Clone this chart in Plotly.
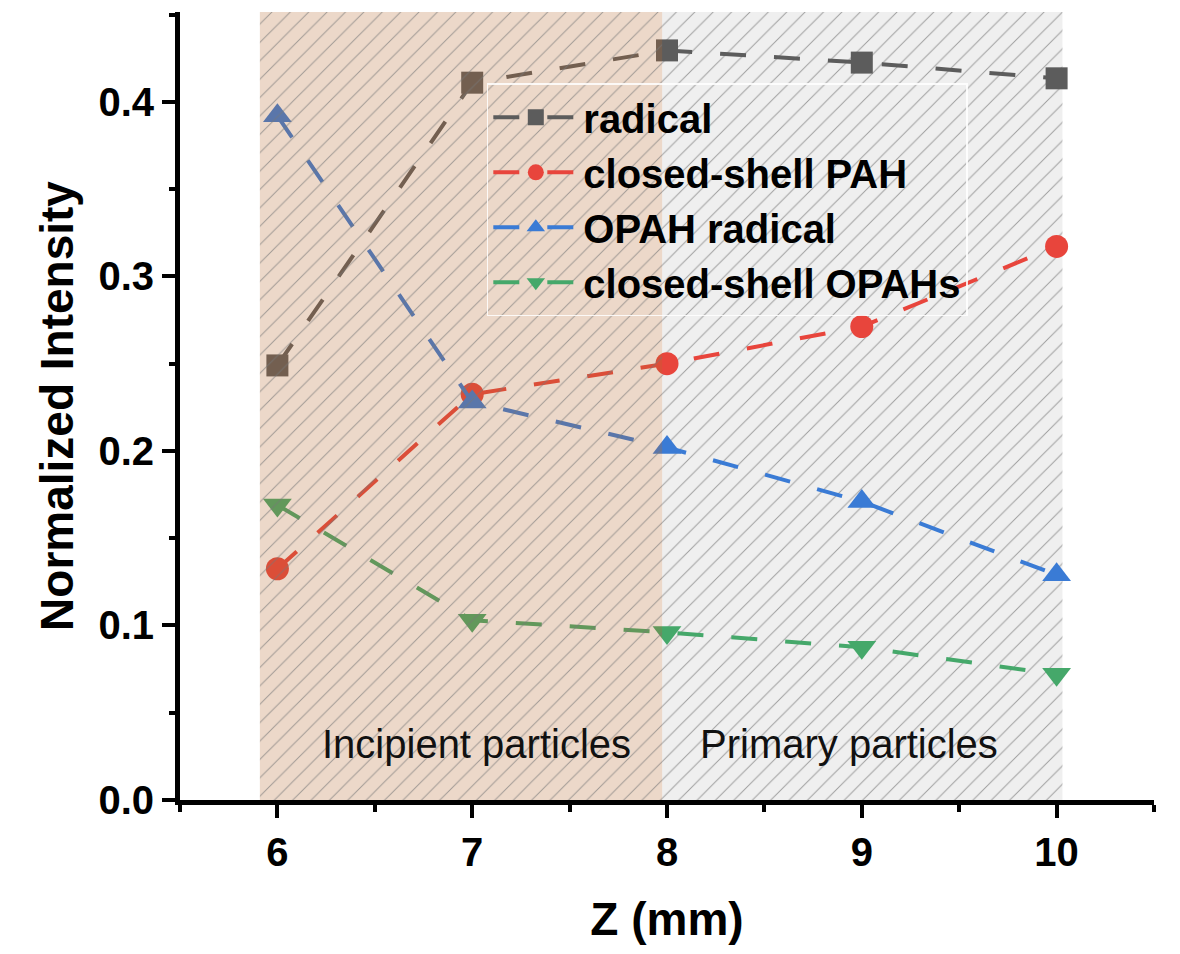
import plotly.graph_objects as go

# Height above the burner surface (mm)
z_mm = [6, 7, 8, 9, 10]

# Normalized intensities of each species class
radical = [0.249, 0.411, 0.4295, 0.4225, 0.4135]
closed_shell_pah = [0.1325, 0.2325, 0.250, 0.2713, 0.3172]
opah_radical = [0.392, 0.228, 0.202, 0.171, 0.129]
closed_shell_opahs = [0.169, 0.103, 0.096, 0.0875, 0.072]

series_names = ["radical", "closed-shell PAH", "OPAH radical", "closed-shell OPAHs"]
series_values = [radical, closed_shell_pah, opah_radical, closed_shell_opahs]
series_colors = ["#5c5c5c", "#e8453c", "#3a7bd5", "#45a86a"]
series_symbols = ["square", "circle", "triangle-up", "triangle-down"]
marker_sizes = [22, 23, 25, 25]

# Particle-stage regions along Z
region_labels = ["Incipient particles", "Primary particles"]
region_x = [(5.91, 7.975), (7.975, 10.03)]
region_label_x = [7.02, 8.935]
region_label_y = 0.032

x_ticks = [6, 7, 8, 9, 10]
x_minor = [5.5, 6.5, 7.5, 8.5, 9.5, 10.5]
y_ticks = [0.0, 0.1, 0.2, 0.3, 0.4]
y_tick_text = ["0.0", "0.1", "0.2", "0.3", "0.4"]
y_minor = [0.05, 0.15, 0.25, 0.35, 0.45]
y_top = 0.4515

FONT = "Liberation Sans, Arial, sans-serif"

fig = go.Figure()

# Primary-particle region: light gray band below the data
gx0, gx1 = region_x[1]
fig.add_shape(type="rect", xref="x", yref="y", x0=gx0, x1=gx1, y0=0, y1=y_top,
              fillcolor="#efefef", line_width=0, layer="below")

# Hatching for the gray band
fig.add_trace(go.Scatter(
    x=[gx0, gx1, gx1, gx0, gx0], y=[0, 0, y_top, y_top, 0],
    mode="lines", fill="toself", line=dict(width=0),
    fillcolor="rgba(0,0,0,0)",
    fillpattern=dict(shape="/", size=13, solidity=0.075,
                     bgcolor="rgba(0,0,0,0)", fgcolor="#8a8a8a", fgopacity=0.8),
    showlegend=False, hoverinfo="skip"))

# Data series
for name, vals, col, sym, ms in zip(series_names, series_values, series_colors,
                                    series_symbols, marker_sizes):
    fig.add_trace(go.Scatter(
        x=z_mm, y=vals, name=name, mode="lines+markers",
        line=dict(color=col, width=4, dash="26px,28px"),
        marker=dict(symbol=sym, size=ms, color=col, line=dict(width=0)),
    ))

# Incipient-particle region: translucent orange overlay with hatching on top
ox0, ox1 = region_x[0]
fig.add_trace(go.Scatter(
    x=[ox0, ox1, ox1, ox0, ox0], y=[0, 0, y_top, y_top, 0],
    mode="lines", fill="toself", line=dict(width=0),
    fillcolor="rgba(180,105,45,0.26)",
    fillpattern=dict(shape="/", size=13, solidity=0.075,
                     bgcolor="rgba(180,105,45,0.26)", fgcolor="#767676", fgopacity=0.65),
    showlegend=False, hoverinfo="skip"))

for lab, lx in zip(region_labels, region_label_x):
    fig.add_annotation(x=lx, y=region_label_y, xref="x", yref="y", text=lab,
                       showarrow=False, font=dict(family=FONT, size=40, color="#111111"))

fig.update_layout(
    width=1180, height=954,
    margin=dict(l=180, r=26, t=12, b=154),
    paper_bgcolor="white", plot_bgcolor="white",
    font=dict(family=FONT, color="black"),
    legend=dict(
        x=0.315, y=0.9095, xanchor="left", yanchor="top",
        font=dict(family=FONT, size=40, weight="bold", color="black"),
        bgcolor="rgba(0,0,0,0)", bordercolor="rgba(255,255,255,0.85)", borderwidth=1.5,
        itemwidth=85, tracegroupgap=0, itemsizing="trace",
    ),
)

fig.update_xaxes(
    range=[5.5, 10.5], tickmode="array", tickvals=x_ticks,
    showgrid=False, zeroline=False, showline=True, linecolor="black", linewidth=5,
    ticks="outside", ticklen=13, tickwidth=4, tickcolor="black",
    tickfont=dict(family=FONT, size=40, weight="bold"),
    minor=dict(tickmode="array", tickvals=x_minor, ticks="outside", ticklen=7,
               tickwidth=4, tickcolor="black", showgrid=False),
    title=dict(text="Z (mm)", font=dict(family=FONT, size=46, weight="bold"), standoff=31),
)
fig.update_yaxes(
    range=[0, y_top], tickmode="array", tickvals=y_ticks, ticktext=y_tick_text,
    showgrid=False, zeroline=False, showline=True, linecolor="black", linewidth=5,
    ticks="outside", ticklen=13, tickwidth=4, tickcolor="black",
    tickfont=dict(family=FONT, size=40, weight="bold"),
    minor=dict(tickmode="array", tickvals=y_minor, ticks="outside", ticklen=6,
               tickwidth=4, tickcolor="black", showgrid=False),
    title=dict(text="Normalized Intensity", font=dict(family=FONT, size=46, weight="bold"),
               standoff=12),
)

fig.write_html("out.html")
